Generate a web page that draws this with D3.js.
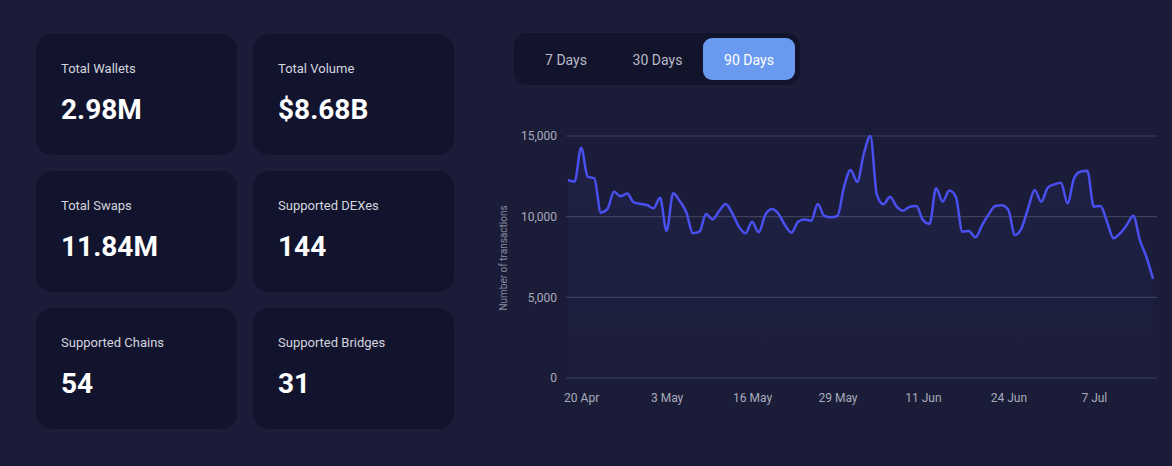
<!DOCTYPE html>
<html>
<head>
<meta charset="utf-8">
<script src="https://cdn.jsdelivr.net/npm/d3@7"></script>
<style>
  html, body { margin: 0; padding: 0; background: #1b1d38; }
  svg { display: block; font-family: Roboto, "Noto Sans", sans-serif; }
</style>
</head>
<body>
<svg id="chart" width="1172" height="466"></svg>
<script>
// stat cards
const statLabels = ['Total Wallets', 'Total Volume', 'Total Swaps', 'Supported DEXes', 'Supported Chains', 'Supported Bridges']
const statValues = ['2.98M', '$8.68B', '11.84M', '144', '54', '31']

// range buttons
const rangeLabels = ['7 Days', '30 Days', '90 Days']
const activeRange = '90 Days'

// daily transactions, 90 days from 18 Apr
const startDate = new Date(2024, 3, 18)
const txCounts = [
  12270, 12170, 14270, 12480, 12380, 10250, 10480, 11550, 11260, 11440,
  10890, 10800, 10720, 10520, 11180, 9110, 11450, 10970, 10270, 8970,
  9070, 10160, 9830, 10350, 10780, 10200, 9380, 8970, 9690, 9030,
  10100, 10480, 10200, 9480, 9010, 9690, 9830, 9750, 10780, 10040,
  9960, 10050, 11860, 12890, 12150, 13900, 15000, 11340, 10770, 11240,
  10620, 10370, 10620, 10660, 9790, 9550, 11760, 10930, 11620, 11240,
  9070, 9110, 8720, 9480, 10140, 10660, 10700, 10410, 8860, 9280,
  10520, 11650, 10930, 11800, 12000, 12110, 10830, 12400, 12800, 12850,
  10620, 10660, 9690, 8660, 8970, 9480, 10060, 8550, 7500, 6140
]
const yTicks = [0, 5000, 10000, 15000]
const xTickIdx = [2, 15, 28, 41, 54, 67, 80]

const data = txCounts.map((v, i) => ({ date: d3.timeDay.offset(startDate, i), value: v }))

const svg = d3.select('#chart')

// cards
const cards = svg.append('g')
  .selectAll('g')
  .data(statLabels)
  .enter().append('g')
    .attr('transform', (d, i) => 'translate(' + (36 + (i % 2) * 217) + ',' + (34 + Math.floor(i / 2) * 137) + ')')

cards.append('rect')
  .attr('width', 201).attr('height', 121)
  .attr('rx', 16)
  .attr('fill', '#12142e')

cards.append('text')
  .attr('x', 25).attr('y', 39)
  .attr('fill', '#d4d5de')
  .style('font-size', '13px')
  .text(d => d)

cards.append('text')
  .attr('x', 25).attr('y', 85)
  .attr('fill', '#ffffff')
  .style('font-size', '28px')
  .style('font-weight', 700)
  .text((d, i) => statValues[i])

// range switch
const sw = svg.append('g')
sw.append('rect')
  .attr('x', 514).attr('y', 33)
  .attr('width', 286).attr('height', 52)
  .attr('rx', 13)
  .attr('fill', '#12142c')

const btnX = d3.scalePoint().domain(rangeLabels).range([566, 749])
sw.selectAll('rect.btn')
  .data(rangeLabels.filter(d => d === activeRange))
  .enter().append('rect')
    .attr('class', 'btn')
    .attr('x', d => btnX(d) - 46).attr('y', 38)
    .attr('width', 92).attr('height', 42)
    .attr('rx', 9)
    .attr('fill', '#6a9af0')
sw.selectAll('text')
  .data(rangeLabels)
  .enter().append('text')
    .attr('x', d => btnX(d))
    .attr('y', 65)
    .attr('text-anchor', 'middle')
    .attr('fill', d => d === activeRange ? '#ffffff' : '#b9bac6')
    .style('font-size', '14px')
    .text(d => d)

// line chart
const x = d3.scaleTime()
  .domain(d3.extent(data, d => d.date))
  .range([568, 1153])
const y = d3.scaleLinear()
  .domain([0, 15000])
  .range([378, 136])

const defs = svg.append('defs')
const grad = defs.append('linearGradient')
  .attr('id', 'areaFill')
  .attr('x1', 0).attr('y1', 0).attr('x2', 0).attr('y2', 1)
grad.append('stop').attr('offset', '0%').attr('stop-color', '#4b50ee').attr('stop-opacity', 0.08)
grad.append('stop').attr('offset', '100%').attr('stop-color', '#4b50ee').attr('stop-opacity', 0.01)

svg.append('g')
  .selectAll('line')
  .data(yTicks)
  .enter().append('line')
    .attr('x1', 566).attr('x2', 1157)
    .attr('y1', d => y(d)).attr('y2', d => y(d))
    .attr('stroke', '#3d4059')
    .attr('stroke-width', 1.2)

svg.append('path')
  .datum(data)
  .attr('fill', 'url(#areaFill)')
  .attr('d', d3.area()
    .curve(d3.curveMonotoneX)
    .x(d => x(d.date))
    .y0(y(0))
    .y1(d => y(d.value)))

svg.append('path')
  .datum(data)
  .attr('fill', 'none')
  .attr('stroke', '#4a4ff0')
  .attr('stroke-width', 2.5)
  .attr('d', d3.line()
    .curve(d3.curveMonotoneX)
    .x(d => x(d.date))
    .y(d => y(d.value)))

const yAxis = svg.append('g')
  .attr('transform', 'translate(566,0)')
  .call(d3.axisLeft(y).tickValues(yTicks).tickSize(0).tickPadding(9).tickFormat(d3.format(',')))
yAxis.select('.domain').remove()
yAxis.selectAll('text')
  .attr('fill', '#a9abbb')
  .style('font-size', '12px')
  .style('font-family', 'Roboto, sans-serif')

const xAxis = svg.append('g')
  .attr('transform', 'translate(0,378)')
  .call(d3.axisBottom(x)
    .tickValues(xTickIdx.map(i => data[i].date))
    .tickSize(0).tickPadding(15)
    .tickFormat(d3.timeFormat('%-d %b')))
xAxis.select('.domain').remove()
xAxis.selectAll('text')
  .attr('fill', '#a9abbb')
  .style('font-size', '12px')
  .style('font-family', 'Roboto, sans-serif')

svg.append('text')
  .attr('transform', 'translate(507,258)rotate(-90)')
  .attr('text-anchor', 'middle')
  .attr('fill', '#8a8c9f')
  .style('font-size', '10px')
  .text('Number of transactions')
</script>
</body>
</html>
